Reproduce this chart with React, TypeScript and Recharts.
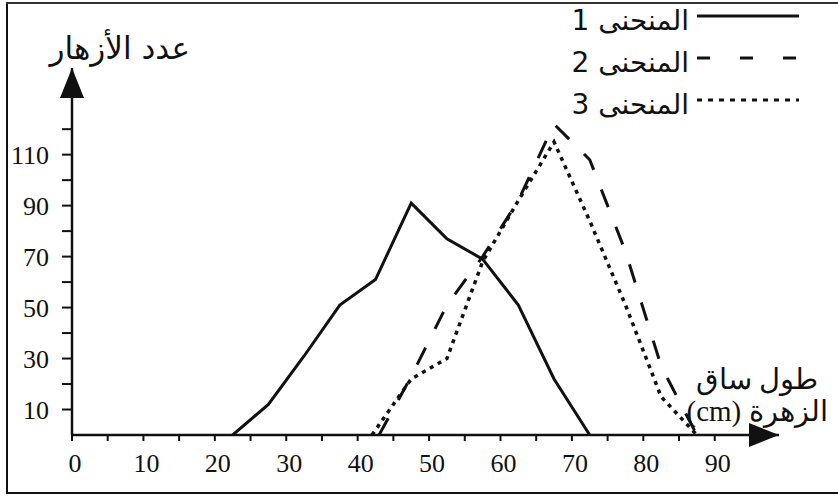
import { LineChart, Line, XAxis, YAxis, Legend, ReferenceDot } from 'recharts';

// stem length (cm) / number of flowers
const lengths1 = [22.5, 27.5, 32.5, 37.5, 42.5, 47.5, 52.5, 57.5, 62.5, 67.5, 72.5];
const counts1 = [0, 12, 31, 51, 61, 91, 77, 69, 51, 22, 0];
const lengths2 = [43, 47.5, 52.5, 57.5, 62.5, 67.5, 72.5, 77.5, 82.5, 87.5];
const counts2 = [0, 23, 51, 70, 92, 122, 108, 72, 27, 0];
const lengths3 = [42, 47.5, 52.5, 57.5, 62.5, 67.5, 72.5, 77.5, 82.5, 87.5];
const counts3 = [0, 22, 30, 68, 92, 115, 84, 51, 15, 0];

const xTicks = [0, 5, 10, 15, 20, 25, 30, 35, 40, 45, 50, 55, 60, 65, 70, 75, 80, 85, 90];
const xLabels = [0, 10, 20, 30, 40, 50, 60, 70, 80, 90];
const yTicks = [10, 20, 30, 40, 50, 60, 70, 80, 90, 100, 110, 120];
const yLabels = [10, 30, 50, 70, 90, 110];

const seriesNames = ['المنحنى 1', 'المنحنى 2', 'المنحنى 3'];
const yTitle = 'عدد الأزهار';
const xTitle1 = 'طول ساق';
const xTitle2 = 'الزهرة (cm)';

const X_MAX = 99;
const Y_MAX = 144;
const INK = '#111';
const NUM_FONT = 'Liberation Serif, DejaVu Serif, serif';
const AR_FONT = 'DejaVu Sans, sans-serif';

const toPoints = (xs: number[], ys: number[]) => xs.map((x, i) => ({ x, y: ys[i] }));
const data1 = toPoints(lengths1, counts1);
const data2 = toPoints(lengths2, counts2);
const data3 = toPoints(lengths3, counts3);

const DASHES = ['', '19 21', '4 5'];
const LEGEND_DASHES = ['', '13 30', '5 6'];

function XTick({ x, y, payload }: any) {
  if (!xLabels.includes(payload.value)) return null;
  return (
    <text
      x={x + 3}
      y={y}
      dy={29}
      textAnchor="middle"
      style={{ fontFamily: NUM_FONT, fontSize: 26 }}
      fill={INK}
    >
      {payload.value}
    </text>
  );
}

function YTick({ x, y, payload }: any) {
  if (!yLabels.includes(payload.value)) return null;
  return (
    <text x={x} y={y} dy={9} textAnchor="end" style={{ fontFamily: NUM_FONT, fontSize: 26 }} fill={INK}>
      {payload.value}
    </text>
  );
}

function LegendBox() {
  return (
    <div style={{ display: 'flex', flexDirection: 'column' }}>
      {seriesNames.map((name, i) => (
        <div
          key={name}
          style={{ display: 'flex', justifyContent: 'flex-end', alignItems: 'center', height: 42 }}
        >
          <span
            style={{ direction: 'rtl', fontFamily: AR_FONT, fontSize: 28, color: INK, lineHeight: 1 }}
          >
            {name}
          </span>
          <svg width={104} height={12} style={{ marginLeft: 7, marginBottom: 10 }}>
            <line
              x1={1}
              y1={6}
              x2={103}
              y2={6}
              stroke={INK}
              strokeWidth={3}
              strokeDasharray={LEGEND_DASHES[i] || undefined}
            />
          </svg>
        </div>
      ))}
    </div>
  );
}

const xArrow = (p: any) => (
  <path d={`M${p.cx},${p.cy} l-30,-12 l0,24 z`} fill={INK} />
);
const yArrow = (p: any) => (
  <path d={`M${p.cx},${p.cy} l-12,30 l24,0 z`} fill={INK} />
);

export default function App() {
  return (
    <div style={{ position: 'relative', width: 838, height: 496, background: '#fff', overflow: 'hidden' }}>
      <style>{'body{margin:0}'}</style>
      {/* scanned frame */}
      <div style={{ position: 'absolute', left: 6, top: 2, width: 2, height: 492, background: INK }} />
      <div style={{ position: 'absolute', left: 6, top: 2, width: 832, height: 2, background: '#333' }} />
      <div style={{ position: 'absolute', left: 6, top: 492, width: 832, height: 2, background: INK }} />

      <LineChart width={838} height={496} margin={{ top: 68, right: 59, bottom: 0, left: 0 }}>
        <XAxis
          type="number"
          dataKey="x"
          domain={[0, X_MAX]}
          ticks={xTicks}
          interval={0}
          height={61}
          tickSize={6}
          stroke={INK}
          axisLine={{ stroke: INK, strokeWidth: 2.5 }}
          tickLine={{ stroke: INK, strokeWidth: 2 }}
          tick={<XTick />}
          allowDataOverflow
        />
        <YAxis
          type="number"
          dataKey="y"
          domain={[0, Y_MAX]}
          ticks={yTicks}
          interval={0}
          width={72}
          tickSize={10}
          tickMargin={13}
          stroke={INK}
          axisLine={{ stroke: INK, strokeWidth: 2.5 }}
          tickLine={{ stroke: INK, strokeWidth: 2 }}
          tick={<YTick />}
          allowDataOverflow
        />
        <Legend
          layout="vertical"
          align="center"
          verticalAlign="middle"
          content={<LegendBox />}
          wrapperStyle={{ top: 0, left: 520, width: 280, height: 130 }}
        />
        {[data1, data2, data3].map((d, i) => (
          <Line
            key={seriesNames[i]}
            data={d}
            dataKey="y"
            name={seriesNames[i]}
            type="linear"
            stroke={INK}
            strokeWidth={i === 2 ? 3.5 : 3}
            strokeDasharray={DASHES[i] || undefined}
            dot={false}
            activeDot={false}
            isAnimationActive={false}
          />
        ))}
        <ReferenceDot x={X_MAX} y={0} r={0} shape={xArrow} ifOverflow="visible" />
        <ReferenceDot x={0} y={Y_MAX} r={0} shape={yArrow} ifOverflow="visible" />
      </LineChart>

      <div
        style={{
          position: 'absolute',
          right: 648,
          top: 30,
          direction: 'rtl',
          fontFamily: AR_FONT,
          fontSize: 31,
          color: INK,
          whiteSpace: 'nowrap',
        }}
      >
        {yTitle}
      </div>
      <div
        style={{
          position: 'absolute',
          left: 674,
          top: 363,
          width: 166,
          textAlign: 'center',
          direction: 'rtl',
          fontFamily: NUM_FONT,
          fontSize: 29,
          lineHeight: '32px',
          color: INK,
          whiteSpace: 'nowrap',
        }}
      >
        <div>{xTitle1}</div>
        <div>{xTitle2}</div>
      </div>
    </div>
  );
}
